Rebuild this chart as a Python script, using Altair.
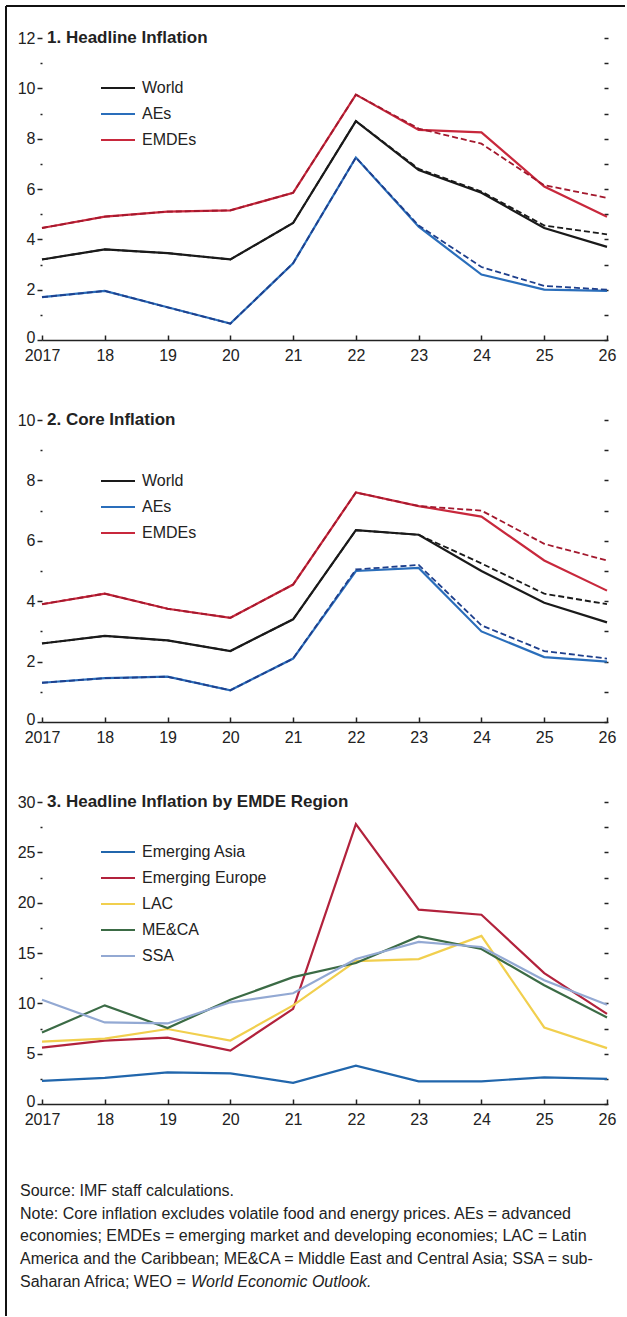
import altair as alt
import pandas as pd

FONT = "Liberation Sans, Arial, Helvetica, sans-serif"

# ---- data -------------------------------------------------------------
YEARS = [2017, 2018, 2019, 2020, 2021, 2022, 2023, 2024, 2025, 2026]
YEAR_LABELS = ["2017", "18", "19", "20", "21", "22", "23", "24", "25", "26"]

AGG_SERIES = ["World", "AEs", "EMDEs"]

# Panel 1: headline inflation (percent); solid = current, dashed = earlier vintage
HEADLINE_WORLD = [3.2, 3.6, 3.45, 3.2, 4.65, 8.7, 6.75, 5.85, 4.45, 3.7]
HEADLINE_AES = [1.7, 1.95, 1.3, 0.65, 3.05, 7.25, 4.5, 2.6, 2.0, 1.95]
HEADLINE_EMDES = [4.45, 4.9, 5.1, 5.15, 5.85, 9.75, 8.35, 8.25, 6.1, 4.9]
HEADLINE_WORLD_PREV = [3.2, 3.6, 3.45, 3.2, 4.65, 8.7, 6.8, 5.9, 4.55, 4.2]
HEADLINE_AES_PREV = [1.7, 1.95, 1.3, 0.65, 3.05, 7.25, 4.55, 2.9, 2.15, 2.0]
HEADLINE_EMDES_PREV = [4.45, 4.9, 5.1, 5.15, 5.85, 9.75, 8.4, 7.8, 6.15, 5.65]

# Panel 2: core inflation (percent)
CORE_WORLD = [2.6, 2.85, 2.7, 2.35, 3.4, 6.35, 6.2, 5.0, 3.95, 3.3]
CORE_AES = [1.3, 1.45, 1.5, 1.05, 2.1, 5.0, 5.1, 3.0, 2.15, 2.0]
CORE_EMDES = [3.9, 4.25, 3.75, 3.45, 4.55, 7.6, 7.15, 6.8, 5.35, 4.35]
CORE_WORLD_PREV = [2.6, 2.85, 2.7, 2.35, 3.4, 6.35, 6.2, 5.25, 4.25, 3.9]
CORE_AES_PREV = [1.3, 1.45, 1.5, 1.05, 2.1, 5.05, 5.2, 3.2, 2.35, 2.1]
CORE_EMDES_PREV = [3.9, 4.25, 3.75, 3.45, 4.55, 7.6, 7.15, 7.0, 5.9, 5.35]

# Panel 3: headline inflation by EMDE region (percent)
REGION_SERIES = ["Emerging Asia", "Emerging Europe", "LAC", "ME&CA", "SSA"]
EMERGING_ASIA = [2.3, 2.6, 3.15, 3.05, 2.1, 3.8, 2.25, 2.25, 2.65, 2.5]
EMERGING_EUROPE = [5.6, 6.3, 6.6, 5.3, 9.45, 27.8, 19.3, 18.8, 13.0, 8.95]
LAC = [6.2, 6.5, 7.45, 6.3, 9.8, 14.2, 14.4, 16.7, 7.6, 5.55]
MECA = [7.1, 9.8, 7.55, 10.35, 12.6, 14.0, 16.65, 15.4, 11.8, 8.6]
SSA = [10.35, 8.1, 8.0, 10.1, 11.0, 14.4, 16.1, 15.6, 12.3, 9.85]

# axis tick values (labels drawn on every other one)
HEADLINE_TICKS = [0, 1, 2, 3, 4, 5, 6, 7, 8, 9, 10, 11, 12]
CORE_TICKS = [0, 1, 2, 3, 4, 5, 6, 7, 8, 9, 10]
REGION_TICKS = [0, 2.5, 5, 7.5, 10, 12.5, 15, 17.5, 20, 22.5, 25, 27.5, 30]

TITLES = ["1. Headline Inflation", "2. Core Inflation",
          "3. Headline Inflation by EMDE Region"]

NOTE_LINES = [
    "Source: IMF staff calculations.",
    "Note: Core inflation excludes volatile food and energy prices. AEs = advanced",
    "economies; EMDEs = emerging market and developing economies; LAC = Latin",
    "America and the Caribbean; ME&CA = Middle East and Central Asia; SSA = sub-",
    "Saharan Africa; WEO = ",
]
NOTE_ITALIC = "World Economic Outlook."

# ---- styling ----------------------------------------------------------
AGG_COLORS = ["#1a1a1a", "#2a6ebb", "#c8283c"]
AGG_DASH_COLORS = ["#1a1a1a", "#1e3f8c", "#a3182d"]
REGION_COLORS = ["#2166ac", "#b2223c", "#f1cf4e", "#3b6b45", "#93a9d3"]

PLOT_W = 565
PLOT_H = 302
INK = "#222222"
NOTE_SIZE = 16


def long_frame(names, values):
    rows = []
    for name, vals in zip(names, values):
        for yr, v in zip(YEARS, vals):
            rows.append({"year": yr, "series": name, "value": v})
    return pd.DataFrame(rows)


def panel(title, ticks, major, solid_df, names, colors, legend_y, row_pad,
          dash_df=None, dash_colors=None, extra=None):
    ymax = ticks[-1]
    xscale = alt.Scale(domain=[YEARS[0], YEARS[-1]], nice=False, zero=False)
    yscale = alt.Scale(domain=[0, ymax], nice=False, zero=True)
    is_major = f"abs(datum.value / {major} - round(datum.value / {major})) < 0.000001"
    label_list = "[" + ",".join(f"'{s}'" for s in YEAR_LABELS) + "]"

    bottom_axis = alt.Axis(
        values=YEARS, labelExpr=f"{label_list}[datum.value - {YEARS[0]}]",
        ticks=False, domain=True, domainColor=INK, domainWidth=1.5,
        labelFontSize=16, labelPadding=7, labelFlush=False, grid=False,
        title=None, labelColor=INK)
    left_axis = alt.Axis(
        values=ticks, labelExpr=f"{is_major} ? datum.label : ''",
        tickSize={"condition": {"test": is_major, "value": 5}, "value": 2},
        labelOffset={"condition": {"test": "datum.value == 0", "value": -3},
                     "value": 0},
        tickWidth=1.5, tickColor=INK, domain=False, grid=False,
        labelFontSize=16, labelPadding=2, labelOverlap=False,
        title=None, labelColor=INK)
    top_tick_axis = alt.Axis(
        orient="top", offset=-PLOT_H, values=YEARS, labels=False,
        domain=False, ticks=True, tickSize=5, tickWidth=1.5, tickColor=INK,
        grid=False, title=None)
    right_axis = alt.Axis(
        orient="right", offset=-3, values=ticks, labels=False, domain=False,
        ticks=True, tickSize=4, tickWidth=1.5, tickColor=INK, grid=False,
        title=None)

    solid = alt.Chart(solid_df).mark_line(strokeWidth=2.2).encode(
        x=alt.X("year:Q", scale=xscale, axis=bottom_axis),
        y=alt.Y("value:Q", scale=yscale, axis=left_axis),
        color=alt.Color(
            "series:N", sort=names,
            scale=alt.Scale(domain=names, range=colors),
            legend=alt.Legend(
                orient="none", legendX=58, legendY=legend_y, title=None,
                symbolType="stroke", symbolSize=1156, symbolStrokeWidth=2,
                labelFontSize=16, labelOffset=6, rowPadding=row_pad, padding=0,
                labelColor=INK, labelFont=FONT)),
        order=alt.Order("year:Q"),
    )

    layers = [solid]
    if dash_df is not None:
        dashed = alt.Chart(dash_df).mark_line(
            strokeWidth=1.8, strokeDash=[6, 3]).encode(
            x=alt.X("year:Q", scale=xscale, axis=None),
            y=alt.Y("value:Q", scale=yscale, axis=None),
            color=alt.Color("series:N",
                            scale=alt.Scale(domain=names, range=dash_colors),
                            legend=None),
            order=alt.Order("year:Q"),
        )
        layers.append(dashed)

    heading = alt.Chart(alt.Data(values=[{"t": title}])).mark_text(
        align="left", baseline="middle", dx=5, fontWeight="bold",
        fontSize=17, font=FONT, color=INK).encode(
        x=alt.X(datum=YEARS[0], type="quantitative", scale=xscale,
                axis=top_tick_axis),
        y=alt.Y(datum=ymax, type="quantitative", scale=yscale,
                axis=right_axis),
        text="t:N",
    )
    layers.append(heading)
    if extra is not None:
        layers.extend(extra)

    return alt.layer(*layers).resolve_scale(color="independent").resolve_axis(
        x="independent", y="independent").properties(width=PLOT_W, height=PLOT_H)


# outer frame lines (left and top edges of the figure box)
frame = alt.Data(values=[{}])
frame_left = alt.Chart(frame).mark_rule(color="#111111", strokeWidth=2).encode(
    x=alt.value(-36), y=alt.value(-32), y2=alt.value(1278))
frame_top = alt.Chart(frame).mark_rule(color="#111111", strokeWidth=2).encode(
    x=alt.value(-36), x2=alt.value(583), y=alt.value(-32))

p1 = panel(TITLES[0], HEADLINE_TICKS, 2,
           long_frame(AGG_SERIES, [HEADLINE_WORLD, HEADLINE_AES, HEADLINE_EMDES]),
           AGG_SERIES, AGG_COLORS, 32, -10.5,
           dash_df=long_frame(AGG_SERIES, [HEADLINE_WORLD_PREV, HEADLINE_AES_PREV,
                                           HEADLINE_EMDES_PREV]),
           dash_colors=AGG_DASH_COLORS, extra=[frame_left, frame_top])

p2 = panel(TITLES[1], CORE_TICKS, 2,
           long_frame(AGG_SERIES, [CORE_WORLD, CORE_AES, CORE_EMDES]),
           AGG_SERIES, AGG_COLORS, 43, -9,
           dash_df=long_frame(AGG_SERIES, [CORE_WORLD_PREV, CORE_AES_PREV,
                                           CORE_EMDES_PREV]),
           dash_colors=AGG_DASH_COLORS)

p3 = panel(TITLES[2], REGION_TICKS, 5,
           long_frame(REGION_SERIES, [EMERGING_ASIA, EMERGING_EUROPE, LAC, MECA, SSA]),
           REGION_SERIES, REGION_COLORS, 32, -11)

# source and note text block
notes_df = pd.DataFrame({"line": list(range(len(NOTE_LINES))), "text": NOTE_LINES})
italic_df = pd.DataFrame({"line": [len(NOTE_LINES) - 1], "text": [NOTE_ITALIC]})
note_y = alt.Y("line:Q", scale=alt.Scale(domain=[-0.3, len(NOTE_LINES) - 1],
                                         reverse=True, nice=False, zero=False),
               axis=None)
notes_plain = alt.Chart(notes_df).mark_text(
    align="left", baseline="middle", font=FONT, fontSize=NOTE_SIZE,
    color=INK).encode(x=alt.value(-22), y=note_y, text="text:N")
notes_italic = alt.Chart(italic_df).mark_text(
    align="left", baseline="middle", font=FONT, fontSize=NOTE_SIZE, color=INK,
    fontStyle="italic", dx=171).encode(
    x=alt.value(-22), y=note_y, text="text:N")
notes = alt.layer(notes_plain, notes_italic).properties(width=PLOT_W, height=98)

chart = alt.vconcat(p1, p2, p3, notes, spacing=80, bounds="flush").properties(
    padding={"left": 5, "top": 5, "right": 0, "bottom": 0},
    background="white",
).configure(font=FONT).configure_view(stroke=None)

chart.save("out.html", embed_options={"renderer": "svg", "actions": False})
